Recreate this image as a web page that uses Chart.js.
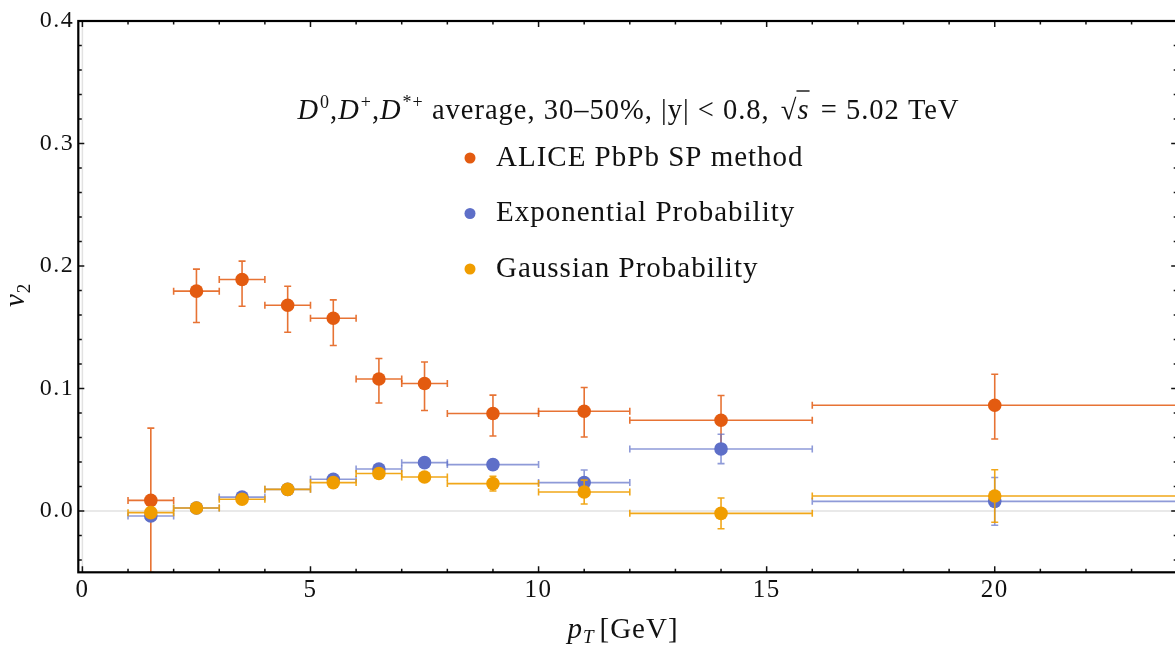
<!DOCTYPE html>
<html><head><meta charset="utf-8">
<script src="https://cdn.jsdelivr.net/npm/chart.js@4.4.1/dist/chart.umd.min.js"></script>
<style>html,body{margin:0;padding:0;overflow:hidden;background:#fff}canvas{display:block}</style>
</head><body>
<canvas id="c" width="1184" height="646"></canvas>
<script>
// ---- data ----
const binLow  = [1, 2, 3, 4, 5, 6, 7, 8, 10, 12, 16];
const binHigh = [2, 3, 4, 5, 6, 7, 8, 10, 12, 16, 24];
const ptCenter = [1.5, 2.5, 3.5, 4.5, 5.5, 6.5, 7.5, 9, 11, 14, 20];

const aliceV2   = [0.0087, 0.1795, 0.189, 0.168, 0.1574, 0.1078, 0.1041, 0.0796, 0.0815, 0.0741, 0.0864];
const aliceUp   = [0.059, 0.018, 0.015, 0.0155, 0.015, 0.0167, 0.0176, 0.015, 0.0193, 0.0202, 0.0253];
const aliceDown = [0.059, 0.0256, 0.0218, 0.022, 0.0223, 0.0196, 0.022, 0.0183, 0.021, 0.0199, 0.0276];

const expV2  = [-0.004, 0.0025, 0.0114, 0.0177, 0.0259, 0.0343, 0.0395, 0.0379, 0.0232, 0.0507, 0.0079];
const expErr = [0.002, 0.002, 0.003, 0.002, 0.002, 0.003, 0.003, 0.004, 0.0103, 0.012, 0.0195];

const gaussV2  = [-0.0013, 0.0025, 0.0096, 0.0177, 0.0232, 0.0306, 0.0278, 0.0224, 0.0155, -0.0019, 0.0123];
const gaussErr = [0.002, 0.002, 0.002, 0.002, 0.002, 0.003, 0.003, 0.006, 0.0097, 0.0125, 0.0214];

const seriesNames = ["ALICE PbPb SP method", "Exponential Probability", "Gaussian Probability"];
const xTickValues = [0, 5, 10, 15, 20];
const yTickValues = [0.0, 0.1, 0.2, 0.3, 0.4];

// ---- styling ----
const SERIF = '"Liberation Serif", "Times New Roman", serif';
const C_ALICE = [227, 91, 16], C_EXP = [94, 111, 200], C_GAUSS = [240, 157, 0];
const rgb = (c, a) => a === undefined ? `rgb(${c[0]},${c[1]},${c[2]})` : `rgba(${c[0]},${c[1]},${c[2]},${a})`;

const errSpec = [
  { v: aliceV2, up: aliceUp, dn: aliceDown, color: rgb(C_ALICE, 0.85) },
  { v: expV2, up: expErr, dn: expErr, color: rgb(C_EXP, 0.7) },
  { v: gaussV2, up: gaussErr, dn: gaussErr, color: rgb(C_GAUSS, 0.9) }
];

const pts = ys => ptCenter.map((x, i) => ({ x: x, y: ys[i] }));

const spacing = {
  id: 'spacing',
  beforeDraw(chart) { chart.ctx.letterSpacing = '1.5px'; }
};

const errorBars = {
  id: 'errorBars',
  beforeDatasetDraw(chart, args) {
    const e = errSpec[args.index];
    const xs = chart.scales.x, ys = chart.scales.y, ctx = chart.ctx, a = chart.chartArea;
    ctx.save();
    ctx.beginPath(); ctx.rect(a.left, a.top, a.right - a.left, a.bottom - a.top); ctx.clip();
    ctx.strokeStyle = e.color; ctx.lineWidth = 1.6;
    const cap = 3.5;
    for (let k = 0; k < ptCenter.length; k++) {
      const px = xs.getPixelForValue(ptCenter[k]), py = ys.getPixelForValue(e.v[k]);
      const x1 = xs.getPixelForValue(binLow[k]), x2 = xs.getPixelForValue(binHigh[k]);
      const y1 = ys.getPixelForValue(e.v[k] + e.up[k]), y2 = ys.getPixelForValue(e.v[k] - e.dn[k]);
      ctx.beginPath();
      ctx.moveTo(x1, py); ctx.lineTo(x2, py);
      ctx.moveTo(x1, py - cap); ctx.lineTo(x1, py + cap);
      ctx.moveTo(x2, py - cap); ctx.lineTo(x2, py + cap);
      ctx.moveTo(px, y1); ctx.lineTo(px, y2);
      ctx.moveTo(px - cap, y1); ctx.lineTo(px + cap, y1);
      ctx.moveTo(px - cap, y2); ctx.lineTo(px + cap, y2);
      ctx.stroke();
    }
    ctx.restore();
  }
};

const frame = {
  id: 'frame',
  beforeDatasetsDraw(chart) {
    const xs = chart.scales.x, ys = chart.scales.y, ctx = chart.ctx, a = chart.chartArea;
    ctx.save();
    ctx.strokeStyle = '#e2e2e2'; ctx.lineWidth = 1.5;
    const x0 = xs.getPixelForValue(0), y0 = ys.getPixelForValue(0);
    ctx.beginPath();
    ctx.moveTo(a.left, y0); ctx.lineTo(a.right, y0);
    ctx.moveTo(x0, a.top); ctx.lineTo(x0, a.bottom);
    ctx.stroke();
    ctx.restore();
  },
  afterDatasetsDraw(chart) {
    const xs = chart.scales.x, ys = chart.scales.y, ctx = chart.ctx, a = chart.chartArea;
    ctx.save();
    ctx.strokeStyle = '#111'; ctx.lineWidth = 1.5;
    ctx.beginPath();
    for (let v = 0; v <= 24; v++) {
      const p = xs.getPixelForValue(v);
      const L = v % 5 === 0 ? 6 : 3.5;
      ctx.moveTo(p, a.bottom); ctx.lineTo(p, a.bottom - L);
      ctx.moveTo(p, a.top); ctx.lineTo(p, a.top + L);
    }
    for (let i = -2; i <= 20; i++) {
      const v = i * 0.02;
      const p = ys.getPixelForValue(v);
      const L = i % 5 === 0 ? 6 : 3.5;
      ctx.moveTo(a.left, p); ctx.lineTo(a.left + L, p);
      ctx.moveTo(a.right, p); ctx.lineTo(a.right - L, p);
    }
    ctx.stroke();
    ctx.lineWidth = 2.2; ctx.strokeStyle = '#000';
    ctx.strokeRect(a.left, a.top, a.right - a.left, a.bottom - a.top);
    ctx.restore();
  }
};

function drawRich(ctx, segs, x, y, align) {
  let w = 0;
  segs.forEach(s => { ctx.font = s.font; s.w = ctx.measureText(s.t).width + (s.gap || 0); w += s.w; });
  let cx = align === 'center' ? x - w / 2 : x;
  segs.forEach(s => {
    ctx.font = s.font;
    ctx.fillText(s.t, cx, y + (s.dy || 0));
    if (s.over) {
      ctx.save(); ctx.lineWidth = 1.4; ctx.strokeStyle = ctx.fillStyle;
      ctx.beginPath(); ctx.moveTo(cx - 1, y - s.over); ctx.lineTo(cx + s.w - (s.gap || 0), y - s.over); ctx.stroke();
      ctx.restore();
    }
    cx += s.w;
  });
}

const texts = {
  id: 'texts',
  afterDraw(chart) {
    const ctx = chart.ctx;
    ctx.save();
    ctx.fillStyle = '#111';
    ctx.textBaseline = 'alphabetic';
    ctx.textAlign = 'left';
    ctx.letterSpacing = '1px';
    const F = 28.5, S = 18;
    const reg = `${F}px ${SERIF}`, it = `italic ${F}px ${SERIF}`, sup = `${S}px ${SERIF}`;
    drawRich(ctx, [
      { t: 'D', font: it, gap: 1 }, { t: '0', font: sup, dy: -11 }, { t: ',', font: reg },
      { t: 'D', font: it, gap: 1 }, { t: '+', font: sup, dy: -11 }, { t: ',', font: reg },
      { t: 'D', font: it, gap: 1 }, { t: '*+', font: sup, dy: -11 },
      { t: ' average, 30\u201350%, |y| < 0.8, ', font: reg, gap: 3 },
      { t: '\u221A', font: reg },
      { t: 's', font: it, over: 28, gap: 3 },
      { t: ' = 5.02 TeV', font: reg }
    ], 628.5, 119, 'center');

    // legend
    const legY = [158, 213.5, 269];
    const legC = [C_ALICE, C_EXP, C_GAUSS];
    ctx.font = `29px ${SERIF}`;
    for (let i = 0; i < 3; i++) {
      ctx.fillStyle = rgb(legC[i]);
      ctx.beginPath(); ctx.arc(470, legY[i], 5.5, 0, Math.PI * 2); ctx.fill();
      ctx.fillStyle = '#111';
      ctx.fillText(seriesNames[i], 496, legY[i] + 7.5);
    }

    // axis titles
    drawRich(ctx, [
      { t: 'p', font: `italic 29px ${SERIF}` },
      { t: 'T', font: `italic 19px ${SERIF}`, dy: 5, gap: 5 },
      { t: '[GeV]', font: `29px ${SERIF}` }
    ], 623, 638, 'center');

    ctx.translate(24, 307);
    ctx.rotate(-Math.PI / 2);
    drawRich(ctx, [
      { t: 'v', font: `italic 29px ${SERIF}`, gap: 0 },
      { t: '2', font: `19px ${SERIF}`, dy: 6 }
    ], 0, 0, 'left');
    ctx.restore();
  }
};

new Chart(document.getElementById('c'), {
  type: 'scatter',
  data: {
    datasets: [
      { label: seriesNames[0], data: pts(aliceV2), backgroundColor: rgb(C_ALICE), pointRadius: 6.8, pointBorderWidth: 0, order: 3 },
      { label: seriesNames[1], data: pts(expV2), backgroundColor: rgb(C_EXP), pointRadius: 6.8, pointBorderWidth: 0, order: 2 },
      { label: seriesNames[2], data: pts(gaussV2), backgroundColor: rgb(C_GAUSS), pointRadius: 6.8, pointBorderWidth: 0, order: 1 }
    ]
  },
  options: {
    responsive: false,
    animation: false,
    events: [],
    layout: { padding: { top: 21, right: 5, left: 0, bottom: 0 } },
    plugins: { legend: { display: false }, tooltip: { enabled: false }, title: { display: false } },
    scales: {
      x: {
        type: 'linear', min: -0.09, max: 24,
        grid: { display: false, drawTicks: false }, border: { display: false },
        afterBuildTicks: s => { s.ticks = xTickValues.map(v => ({ value: v })); },
        afterFit: s => { s.height = 73.7; },
        ticks: { font: { family: SERIF, size: 25 }, color: '#111', padding: 3, maxRotation: 0, callback: v => String(v) }
      },
      y: {
        type: 'linear', min: -0.05, max: 0.4,
        grid: { display: false, drawTicks: false }, border: { display: false },
        afterBuildTicks: s => { s.ticks = yTickValues.map(v => ({ value: v })); },
        afterFit: s => { s.width = 78.3; },
        ticks: { font: { family: SERIF, size: 24 }, color: '#111', padding: 4, callback: v => Number(v).toFixed(1) }
      }
    }
  },
  plugins: [spacing, errorBars, frame, texts]
});
</script>
</body></html>
